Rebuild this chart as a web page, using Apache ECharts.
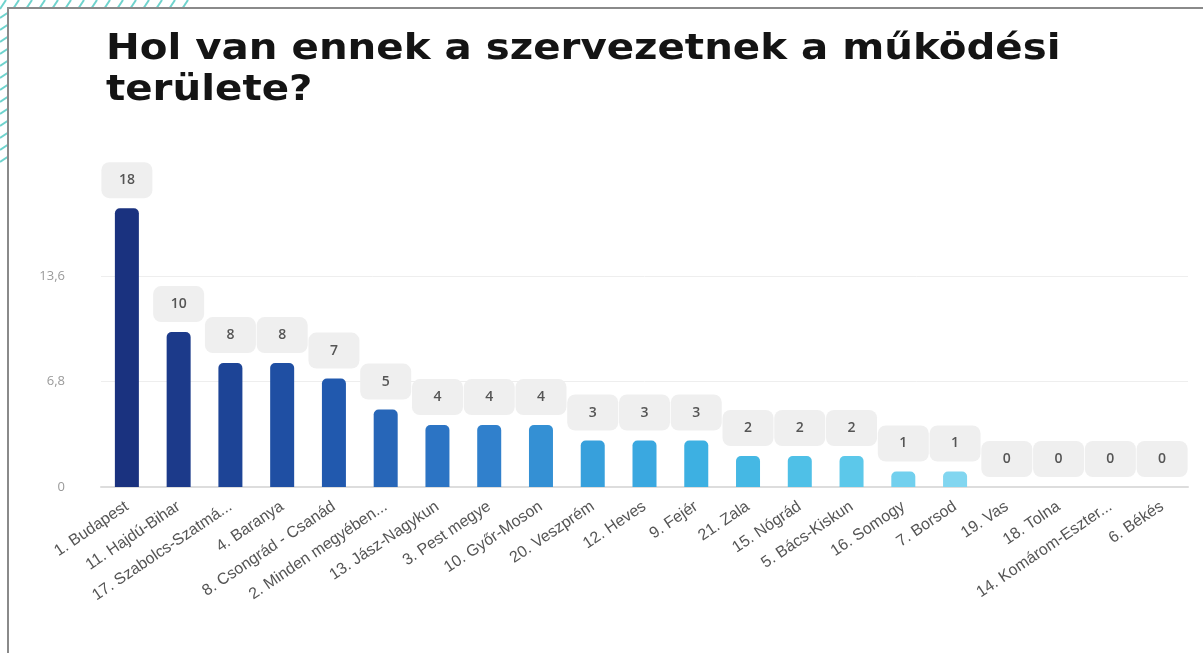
<!DOCTYPE html>
<html>
<head>
<meta charset="utf-8">
<script src="https://cdn.jsdelivr.net/npm/echarts@6/dist/echarts.min.js"></script>
<style>html,body{margin:0;padding:0;background:#fff;}#c{width:1203px;height:653px;}</style>
</head>
<body>
<div id="c"></div>
<script>
const categories = ['1. Budapest', '11. Hajdú-Bihar', '17. Szabolcs-Szatmá...', '4. Baranya', '8. Csongrád - Csanád', '2. Minden megyében...', '13. Jász-Nagykun', '3. Pest megye', '10. Győr-Moson', '20. Veszprém', '12. Heves', '9. Fejér', '21. Zala', '15. Nógrád', '5. Bács-Kiskun', '16. Somogy', '7. Borsod', '19. Vas', '18. Tolna', '14. Komárom-Eszter...', '6. Békés'];
const values = [18, 10, 8, 8, 7, 5, 4, 4, 4, 3, 3, 3, 2, 2, 2, 1, 1, 0, 0, 0, 0];
const barColors = ['#1a327f', '#1c3a8a', '#1d4496', '#1f4fa3', '#2159ae', '#2766b8', '#2c74c4', '#3080cc', '#3490d4', '#37a0dc', '#3aa8e0', '#3db0e2', '#45b8e4', '#4fc0e7', '#5cc8ea', '#72d0ee', '#82d6f0', '#8fdaf2', '#8fdaf2', '#8fdaf2', '#8fdaf2'];
const yTicks = { min: 0, max: 20.4, interval: 6.8 };
const titleText = 'Hol van ennek a szervezetnek a működési\nterülete?';

const deco = [];
for (let x = 6; x <= 196; x += 13) {
  deco.push({ type: 'line', z: -10, shape: { x1: x, y1: 0, x2: x - 6, y2: 9 }, style: { stroke: '#6fd3cd', lineWidth: 2 } });
}
for (let y = 12; y <= 165; y += 12) {
  deco.push({ type: 'line', z: -10, shape: { x1: 9, y1: y, x2: 0, y2: y + 6 }, style: { stroke: '#6fd3cd', lineWidth: 2 } });
}
deco.push({ type: 'rect', z: -5, shape: { x: 8, y: 8, width: 1220, height: 680 }, style: { fill: '#ffffff', stroke: '#8a8a8a', lineWidth: 2 } });
deco.push({
  type: 'text', z: 10, x: 106, y: 29, scaleX: 1.12, scaleY: 1,
  style: { text: titleText, fill: '#141414', font: 'bold 36px "DejaVu Sans"', lineHeight: 41 }
});

const chart = echarts.init(document.getElementById('c'), null, { renderer: 'canvas' });
chart.setOption({
  backgroundColor: '#ffffff',
  animation: false,
  graphic: deco,
  grid: { left: 101, right: 15, top: 171, bottom: 166 },
  xAxis: {
    type: 'category',
    data: categories,
    axisLine: { show: true, lineStyle: { color: '#dddddd', width: 2 } },
    axisTick: { show: false },
    axisLabel: { interval: 0, rotate: 34, margin: 18, color: '#555555', fontSize: 16, fontFamily: 'Liberation Sans' }
  },
  yAxis: {
    type: 'value',
    min: yTicks.min,
    max: yTicks.max,
    interval: yTicks.interval,
    axisLine: { show: false },
    axisTick: { show: false },
    splitLine: { show: true, showMaxLine: false, showMinLine: false, lineStyle: { color: '#eeeeee', width: 1 } },
    axisLabel: {
      showMaxLabel: false,
      margin: 36,
      color: '#9a9a9a',
      fontSize: 13,
      fontFamily: 'Open Sans',
      formatter: v => String(+v.toFixed(1)).replace('.', ',')
    }
  },
  series: [{
    type: 'bar',
    data: values.map((v, i) => ({ value: v, itemStyle: { color: barColors[i] } })),
    barWidth: 24,
    itemStyle: { borderRadius: [5, 5, 0, 0] },
    label: {
      show: true,
      position: 'top',
      distance: 10,
      backgroundColor: '#efefef',
      borderRadius: 8,
      padding: [10, 15],
      width: 21,
      align: 'center',
      lineHeight: 16,
      color: '#555555',
      fontSize: 14,
      fontWeight: 600,
      fontFamily: 'Open Sans'
    }
  }]
});
</script>
</body>
</html>
